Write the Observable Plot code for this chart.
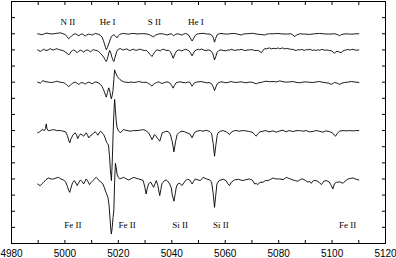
<!DOCTYPE html>
<html>
<head>
<meta charset="utf-8">
<script src="https://cdn.jsdelivr.net/npm/d3@7"></script>
<script src="https://cdn.jsdelivr.net/npm/@observablehq/plot@0.6"></script>
<style>
  html, body { margin: 0; padding: 0; background: white; }
  #chart svg { display: block; }
</style>
</head>
<body>
<div id="chart"></div>
<script>
// Tick values
const xTicks = [4980, 4990, 5000, 5010, 5020, 5030, 5040, 5050, 5060, 5070, 5080, 5090, 5100, 5110, 5120];
const xLabels = [4980, 5000, 5020, 5040, 5060, 5080, 5100, 5120];
const yTicks = [0, 1, 2, 3, 4, 5, 6, 7, 8, 9, 10, 11, 12, 13, 14, 15];

// Vertical offsets of the five spectra (continuum = 1 + offset)
const offsets = [12, 11, 9, 6, 3];

// Line identifications
const topLabels = [
  {name: "N II", wave: 5001.1},
  {name: "He I", wave: 5016.0},
  {name: "S II", wave: 5033.5},
  {name: "He I", wave: 5049.0}
];
const bottomLabels = [
  {name: "Fe II", wave: 5003.0},
  {name: "Fe II", wave: 5023.3},
  {name: "Si II", wave: 5043.1},
  {name: "Si II", wave: 5058.4},
  {name: "Fe II", wave: 5105.8}
];

// Spectra: [wavelength (Å), normalized flux]
const spec1 = [[4989.8,1.00],[4990.6,0.97],[4991.5,0.94],[4992.4,1.01],[4993.3,1.04],[4994.5,0.99],[4995.8,1.00],[4997,1.03],[4998.3,1.06],[4999.3,1.0],[5000.2,0.94],[5000.8,0.82],[5001.4,0.69],[5002,0.78],[5002.7,0.90],[5003.3,0.97],[5003.9,1.00],[5004.6,0.93],[5005.2,0.88],[5005.8,0.95],[5006.4,1.00],[5007,0.94],[5007.6,0.86],[5008.2,0.93],[5008.9,0.98],[5009.5,0.96],[5010.2,0.92],[5010.8,0.97],[5011.4,1.02],[5012,0.99],[5012.7,0.96],[5013.3,0.90],[5013.9,0.79],[5014.4,0.58],[5014.8,0.38],[5015.2,0.15],[5015.5,0.01],[5015.9,0.15],[5016.4,0.38],[5016.9,0.62],[5017.4,0.83],[5018.3,0.94],[5018.9,0.86],[5019.5,0.75],[5020,0.88],[5020.5,0.96],[5021.2,1.0],[5022,1.02],[5023,0.99],[5023.9,0.98],[5024.8,1.01],[5025.8,1.02],[5027,0.99],[5028.3,1.0],[5029.5,1.01],[5030.8,0.98],[5031.6,0.94],[5032.3,0.88],[5033.2,0.81],[5033.8,0.9],[5034.5,0.96],[5035.5,1.0],[5036.4,1.0],[5037.3,0.97],[5038.2,0.92],[5039,0.97],[5039.8,1.0],[5040.7,0.88],[5041.3,0.95],[5042,1.0],[5043,0.97],[5043.8,0.92],[5044.5,0.98],[5045.1,1.02],[5045.7,0.98],[5046.3,0.92],[5046.9,0.75],[5047.6,0.55],[5048.2,0.72],[5048.8,0.90],[5049.4,0.98],[5050,1.0],[5051.7,1.03],[5053,0.99],[5054.2,0.98],[5055.2,0.88],[5055.6,0.72],[5056,0.48],[5056.4,0.70],[5056.9,0.92],[5057.6,0.99],[5058.4,1.02],[5059.6,0.99],[5060.9,0.98],[5062.2,1.01],[5063.4,1.02],[5064.6,0.98],[5065.9,0.92],[5066.8,0.98],[5067.8,1.0],[5069,1.01],[5070.3,1.03],[5071.5,0.99],[5072.8,0.96],[5073.8,0.95],[5074.7,0.92],[5075.6,0.98],[5076.6,1.0],[5078,1.0],[5079.7,1.02],[5081.2,0.99],[5082.9,0.98],[5084.5,1.0],[5085.3,0.93],[5086,0.83],[5086.8,0.93],[5087.9,1.0],[5089.7,0.98],[5091.6,0.96],[5093.4,1.0],[5095.3,1.02],[5097.2,0.99],[5099.1,0.98],[5100.9,1.0],[5102,0.95],[5102.8,0.88],[5103.6,0.96],[5105.3,1.0],[5106.5,0.98],[5107.8,0.98],[5109,1.0],[5110,1.0]];

const spec2 = [[4989.8,1.0],[4990.3,0.95],[4990.8,0.90],[4991.4,0.97],[4992,1.04],[4992.6,0.99],[4993.3,0.96],[4993.9,1.02],[4994.5,1.08],[4995.1,1.01],[4995.8,1.0],[4996.4,1.04],[4997,1.08],[4997.6,1.02],[4998.3,1.0],[4998.9,0.97],[4999.5,0.94],[5000.2,0.86],[5000.8,0.79],[5001.4,0.69],[5001.9,0.78],[5002.3,0.90],[5002.8,0.96],[5003.3,1.0],[5004,0.92],[5004.6,0.83],[5005.2,0.93],[5005.8,0.98],[5006.4,0.94],[5007,0.86],[5007.6,0.95],[5008.3,1.0],[5008.9,0.96],[5009.5,0.88],[5010.1,0.95],[5010.7,1.02],[5011.3,0.98],[5012,0.96],[5012.6,0.9],[5013.3,0.79],[5013.9,0.68],[5014.5,0.55],[5015,0.4],[5015.5,0.28],[5015.8,0.4],[5016.1,0.59],[5016.5,0.85],[5016.8,0.96],[5017.2,0.8],[5017.5,0.59],[5017.9,0.4],[5018.3,0.28],[5018.6,0.45],[5019,0.69],[5019.4,0.9],[5019.7,1.0],[5020.2,1.05],[5020.8,1.08],[5021.4,1.02],[5022,1.0],[5022.6,1.04],[5023.2,1.06],[5023.8,0.99],[5024.5,0.96],[5025.1,1.02],[5025.7,1.04],[5026.3,0.98],[5027,0.98],[5027.6,1.03],[5028.3,1.04],[5029,0.99],[5029.8,0.96],[5030.4,0.98],[5031,0.88],[5031.5,0.8],[5032,0.7],[5032.6,0.59],[5033,0.7],[5033.5,0.83],[5034,0.95],[5034.5,1.0],[5035.1,0.98],[5035.7,0.94],[5036.3,1.02],[5037,1.04],[5037.6,0.99],[5038.2,0.96],[5038.9,0.98],[5039.5,0.88],[5040,0.7],[5040.5,0.48],[5040.9,0.62],[5041.3,0.79],[5041.9,0.95],[5042.6,1.0],[5043.2,0.97],[5043.8,0.94],[5044.5,1.0],[5045.1,1.04],[5045.7,1.0],[5046.3,0.96],[5046.9,0.85],[5047.6,0.63],[5048.1,0.8],[5048.6,0.94],[5049.2,1.0],[5050,1.04],[5050.5,1.0],[5051.1,1.06],[5051.8,1.0],[5052.4,0.97],[5053,0.96],[5053.6,1.0],[5054.3,0.97],[5054.9,0.9],[5055.4,0.75],[5056,0.38],[5056.5,0.6],[5057,0.86],[5057.6,0.96],[5058.4,1.0],[5059.2,0.97],[5060.3,0.94],[5061,1.0],[5061.6,0.98],[5062.2,1.04],[5062.9,1.0],[5063.5,0.97],[5064.1,0.98],[5064.8,1.02],[5065.4,0.99],[5065.9,1.04],[5066.6,1.0],[5067.2,0.97],[5067.8,0.96],[5068.5,1.01],[5069.1,0.99],[5069.7,1.02],[5070.4,1.0],[5071,0.96],[5071.6,0.96],[5072.3,0.97],[5072.9,0.9],[5073.5,0.83],[5074.1,0.95],[5074.7,1.08],[5075.4,1.06],[5076,1.1],[5076.6,1.12],[5077.3,1.06],[5077.9,1.1],[5078.5,1.08],[5079.1,1.08],[5079.8,1.12],[5080.4,1.07],[5081,1.1],[5081.6,1.12],[5082.3,1.06],[5082.9,1.09],[5083.5,1.07],[5084.1,1.06],[5084.8,1.02],[5085.4,1.04],[5086,0.98],[5086.6,0.96],[5087.2,1.02],[5087.8,0.99],[5088.5,1.03],[5089.1,1.0],[5089.7,0.97],[5090.4,1.02],[5091,1.0],[5091.6,1.04],[5092.2,1.0],[5092.9,0.97],[5093.5,1.0],[5094.1,0.96],[5094.7,1.01],[5095.4,0.98],[5096,1.02],[5096.6,1.02],[5097.3,0.97],[5097.9,1.0],[5098.5,0.98],[5099.1,0.96],[5099.8,0.94],[5100.3,0.88],[5100.9,0.79],[5101.5,0.9],[5102.2,0.9],[5102.8,0.86],[5103.4,0.83],[5104,0.92],[5104.7,0.98],[5105.3,1.0],[5105.9,1.03],[5106.6,0.99],[5107.2,1.02],[5107.8,1.04],[5108.5,1.0],[5109.1,0.98],[5110,1.0]];

const spec3 = [[4989.8,1.0],[4990.3,0.97],[4990.8,0.94],[4991.3,1.02],[4991.8,1.1],[4992.5,1.04],[4993.3,1.02],[4994.2,0.99],[4995,0.98],[4995.8,1.0],[4996.4,1.03],[4997,1.06],[4997.9,1.01],[4998.9,0.98],[4999.6,0.96],[5000.2,0.9],[5000.8,0.8],[5001.4,0.73],[5002,0.8],[5002.7,0.92],[5003.3,0.98],[5003.9,1.0],[5004.6,0.93],[5005.2,0.86],[5005.8,0.94],[5006.4,0.98],[5007,0.94],[5007.6,0.88],[5008.2,0.95],[5008.9,1.0],[5009.5,0.96],[5010.2,0.9],[5010.8,0.96],[5011.4,1.02],[5012,0.99],[5012.7,0.94],[5013.3,0.86],[5013.9,0.73],[5014.4,0.55],[5014.8,0.38],[5015.2,0.18],[5015.5,0.07],[5015.9,0.35],[5016.4,0.65],[5016.8,0.45],[5017.1,0.15],[5017.4,-0.03],[5017.7,0.2],[5018,0.48],[5018.3,1.15],[5018.6,1.76],[5018.9,1.62],[5019.2,1.5],[5019.6,1.36],[5020.1,1.25],[5020.6,1.16],[5021.2,1.09],[5021.8,1.04],[5022.5,1.0],[5023.2,0.99],[5023.9,0.98],[5024.8,1.01],[5025.8,0.98],[5026.7,1.0],[5027.6,1.04],[5028.5,1.0],[5029.5,0.98],[5030.4,1.0],[5031.3,0.92],[5032,0.84],[5032.6,0.75],[5033.1,0.86],[5033.6,0.92],[5034.3,0.98],[5035.1,1.02],[5035.8,0.96],[5036.4,0.92],[5037.3,0.98],[5038.2,1.02],[5038.9,0.98],[5039.5,0.92],[5040,0.78],[5040.5,0.63],[5041,0.8],[5041.5,0.94],[5042.3,1.0],[5043.2,1.02],[5044.2,0.98],[5045.1,0.96],[5045.9,1.0],[5046.7,1.0],[5047.2,0.88],[5047.6,0.75],[5048.1,0.86],[5048.6,0.98],[5049.2,1.0],[5050,1.02],[5051.1,1.04],[5052,1.0],[5053,0.96],[5054,0.98],[5054.9,0.9],[5055.5,0.72],[5056,0.48],[5056.5,0.7],[5057,0.9],[5057.7,0.98],[5058.4,1.02],[5059.3,1.0],[5060.3,0.96],[5061.2,0.99],[5062.2,1.04],[5063.1,1.0],[5064.1,0.98],[5065,1.0],[5065.9,1.02],[5066.9,0.99],[5067.8,0.96],[5068.8,1.0],[5069.7,1.0],[5070.7,0.96],[5071.6,0.9],[5072.5,0.96],[5073.5,0.98],[5074.4,1.03],[5075.3,1.06],[5076.6,1.03],[5077.9,1.04],[5079.2,1.02],[5080.4,1.08],[5081.6,1.03],[5082.9,1.0],[5084.1,1.02],[5085.3,1.04],[5086.5,0.99],[5087.8,0.96],[5089,1.0],[5090.3,1.02],[5091.6,0.99],[5092.8,0.98],[5094,1.01],[5095.3,1.04],[5096.6,0.99],[5097.8,0.96],[5098.8,0.94],[5099.7,0.86],[5100.3,0.92],[5100.9,0.98],[5101.9,0.94],[5102.8,0.86],[5103.7,0.94],[5104.7,0.98],[5105.9,1.0],[5107.2,1.04],[5108.6,1.01],[5110,0.98]];

const spec4 = [[4989.8,0.86],[4990.5,0.92],[4991.5,1.06],[4992.3,1.0],[4992.7,1.12],[4993,1.41],[4993.3,1.1],[4993.8,0.98],[4994.6,1.02],[4995.8,1.06],[4996.9,1.0],[4998.3,1.0],[4999.2,0.97],[5000.2,0.92],[5000.9,0.7],[5001.4,0.42],[5001.8,0.24],[5002.3,0.5],[5003.1,0.75],[5003.9,0.86],[5004.4,0.7],[5004.8,0.5],[5005.3,0.68],[5005.8,0.79],[5006.4,0.74],[5007,0.65],[5007.5,0.76],[5008,0.86],[5008.5,0.7],[5008.9,0.55],[5009.5,0.68],[5010.2,0.75],[5010.8,0.86],[5011.4,0.92],[5011.9,0.82],[5012.3,0.71],[5012.8,0.85],[5013.3,0.96],[5013.9,0.88],[5014.5,0.75],[5015,0.56],[5015.5,0.32],[5015.9,0.2],[5016.3,0.1],[5016.7,-0.6],[5017,-1.4],[5017.4,-2.1],[5017.7,-1.0],[5018,0.6],[5018.3,2.0],[5018.6,2.93],[5018.9,2.3],[5019.2,1.6],[5019.5,1.2],[5020,1.0],[5020.8,0.86],[5021.4,0.98],[5022,1.06],[5023.2,1.0],[5024.5,0.96],[5025.7,1.0],[5027,1.0],[5028.3,1.03],[5029.5,1.06],[5030.4,0.98],[5031.3,0.86],[5032,0.65],[5032.6,0.44],[5033.1,0.6],[5033.5,0.75],[5034,0.68],[5034.5,0.55],[5035,0.45],[5035.5,0.34],[5036,0.62],[5036.4,0.86],[5037.3,0.92],[5038.2,0.96],[5038.9,0.9],[5039.5,0.75],[5040.2,0.3],[5040.8,-0.32],[5041.4,0.3],[5042,0.75],[5042.9,0.9],[5043.8,0.96],[5044.8,0.92],[5045.7,0.86],[5046.7,0.8],[5047.2,0.66],[5047.6,0.55],[5048.2,0.78],[5048.8,0.92],[5049.7,0.98],[5050.7,1.0],[5051.7,0.96],[5052.9,1.02],[5054.2,0.94],[5054.9,0.82],[5055.5,0.2],[5056,-0.59],[5056.5,0.1],[5057,0.7],[5057.3,0.86],[5058.2,0.96],[5059.2,1.0],[5060.4,0.92],[5061,0.84],[5061.6,0.75],[5062.3,0.9],[5063.2,0.98],[5064.1,1.0],[5065.3,0.96],[5066.6,1.0],[5067.8,0.98],[5069.1,0.94],[5070.4,0.88],[5071,0.75],[5071.6,0.65],[5072.3,0.82],[5073,0.92],[5074.1,0.96],[5075.2,1.0],[5076.4,0.92],[5077.9,0.98],[5079.1,0.9],[5080.4,0.98],[5081.6,1.02],[5082.8,0.92],[5083.9,1.0],[5085.3,0.94],[5086.5,0.99],[5087.8,1.0],[5089.1,0.96],[5090.3,1.0],[5091.5,0.92],[5092.8,0.94],[5093.9,1.0],[5095.2,0.96],[5096.6,0.9],[5097.6,0.98],[5099,0.94],[5100.2,0.85],[5100.8,0.72],[5101.3,0.65],[5101.9,0.82],[5102.8,0.96],[5104.1,1.0],[5105.3,0.98],[5106.5,1.0],[5108,0.98],[5109,1.0],[5110,1.0]];

const spec5 = [[4989.8,0.69],[4990.3,0.62],[4990.8,0.59],[4991.4,0.7],[4992,0.79],[4992.9,0.96],[4993.8,1.06],[4994.8,1.0],[4995.8,1.0],[4996.7,1.06],[4997.6,1.1],[4998.5,1.0],[4999.5,0.94],[5000.3,0.8],[5000.9,0.55],[5001.4,0.3],[5001.8,0.17],[5002.2,0.4],[5002.7,0.69],[5003.1,0.82],[5003.5,0.9],[5004.1,0.75],[5004.6,0.59],[5005.2,0.78],[5005.8,0.94],[5006.4,0.84],[5007,0.69],[5007.5,0.86],[5008,1.0],[5008.6,0.84],[5009.2,0.65],[5009.8,0.78],[5010.5,0.9],[5011.1,1.02],[5011.7,1.1],[5012.4,0.98],[5013,0.86],[5013.6,0.8],[5014.2,0.69],[5014.8,0.45],[5015.3,0.2],[5015.7,0.05],[5016.1,-0.15],[5016.5,-0.6],[5016.9,-1.5],[5017.2,-2.2],[5017.4,-2.41],[5017.7,-2.0],[5018,-1.4],[5018.3,-0.96],[5018.6,0.8],[5018.9,1.97],[5019.2,1.7],[5019.5,1.31],[5020,1.1],[5020.5,1.0],[5021.2,1.05],[5022,1.1],[5023,1.0],[5023.9,0.94],[5024.8,1.02],[5025.8,1.1],[5026.7,1.04],[5027.6,1.0],[5028.5,0.96],[5029.3,0.9],[5029.9,0.5],[5030.4,0.07],[5030.8,0.4],[5031.3,0.69],[5031.8,0.78],[5032.2,0.79],[5032.7,0.62],[5033.2,0.48],[5033.7,0.7],[5034.2,0.9],[5034.8,0.6],[5035.2,0.2],[5035.5,-0.03],[5035.9,0.35],[5036.3,0.7],[5036.7,0.79],[5037.3,0.9],[5037.9,0.94],[5038.5,0.86],[5039.2,0.69],[5039.8,0.45],[5040.2,0.0],[5040.8,-0.38],[5041.3,0.1],[5041.7,0.5],[5042.2,0.69],[5043,0.74],[5043.8,0.59],[5044.5,0.75],[5045.1,0.9],[5045.9,0.98],[5046.7,0.94],[5047.2,0.8],[5047.6,0.69],[5048.2,0.86],[5048.8,1.0],[5049.8,0.94],[5050.7,0.9],[5051.7,1.1],[5053,1.0],[5054.2,0.94],[5054.9,0.8],[5055.5,0.1],[5056,-0.76],[5056.4,-0.1],[5056.9,0.69],[5057.6,0.88],[5058.4,0.94],[5059.3,0.98],[5060.3,0.9],[5061,0.7],[5061.6,0.59],[5062.3,0.8],[5063.4,0.94],[5064.9,0.98],[5066.6,0.9],[5067.8,0.96],[5069.1,1.0],[5070.2,0.92],[5071,0.69],[5071.6,0.72],[5072.2,0.65],[5073,0.8],[5074.1,0.79],[5075,0.9],[5076,0.9],[5077,0.98],[5077.9,1.06],[5079,1.0],[5080.4,1.0],[5081.7,0.96],[5082.9,1.1],[5084.1,1.02],[5085.3,0.94],[5086.2,0.9],[5087.2,0.86],[5088.2,0.98],[5089.1,1.0],[5090.1,0.9],[5091,0.8],[5091.6,0.86],[5092.2,0.73],[5093,0.9],[5094.1,0.9],[5095.1,0.8],[5096,0.65],[5096.9,0.86],[5097.8,0.9],[5098.9,0.82],[5099.7,0.6],[5100.3,0.38],[5100.9,0.7],[5101.6,0.79],[5102.9,0.82],[5104.1,0.73],[5105,0.88],[5106,1.0],[5107,1.04],[5107.9,1.06],[5109,0.98],[5110,0.94]];

const spectra = [spec1, spec2, spec3, spec4, spec5];
const rows = spectra.flatMap((s, i) => s.map(([wave, flux]) => ({series: i, wave, flux: flux + offsets[i]})));

const serif = "'Liberation Serif', 'DejaVu Serif', serif";

const chart = Plot.plot({
  width: 396,
  height: 258,
  marginLeft: 11,
  marginRight: 11,
  marginTop: 1,
  marginBottom: 15,
  style: {background: "white", color: "black", fontFamily: "'Liberation Sans', Arial, sans-serif"},
  x: {domain: [4980, 5120]},
  y: {domain: [0, 15]},
  marks: [
    Plot.axisX(xTicks, {anchor: "bottom", tickSize: 3, dy: -3, fill: "none", label: null}),
    Plot.axisX(xTicks, {anchor: "top", tickSize: 3, dy: 3, fill: "none", label: null}),
    Plot.axisX(xLabels, {anchor: "bottom", tickSize: 0, tickPadding: 6, tickFormat: "d", fontSize: 10, label: null}),
    Plot.axisY(yTicks, {anchor: "left", tickSize: 4, dx: 4, fill: "none", label: null}),
    Plot.axisY(yTicks, {anchor: "right", tickSize: 4, dx: -4, fill: "none", label: null}),
    Plot.line(rows, {x: "wave", y: "flux", z: "series", stroke: "black", strokeWidth: 0.9}),
    Plot.text(topLabels, {x: "wave", text: "name", frameAnchor: "top", dy: 17, fontFamily: serif, fontSize: 9, fill: "black"}),
    Plot.text(bottomLabels, {x: "wave", text: "name", frameAnchor: "bottom", dy: -16, fontFamily: serif, fontSize: 9, fill: "black"}),
    Plot.frame({stroke: "black"})
  ]
});
document.getElementById("chart").appendChild(chart);
</script>
</body>
</html>
